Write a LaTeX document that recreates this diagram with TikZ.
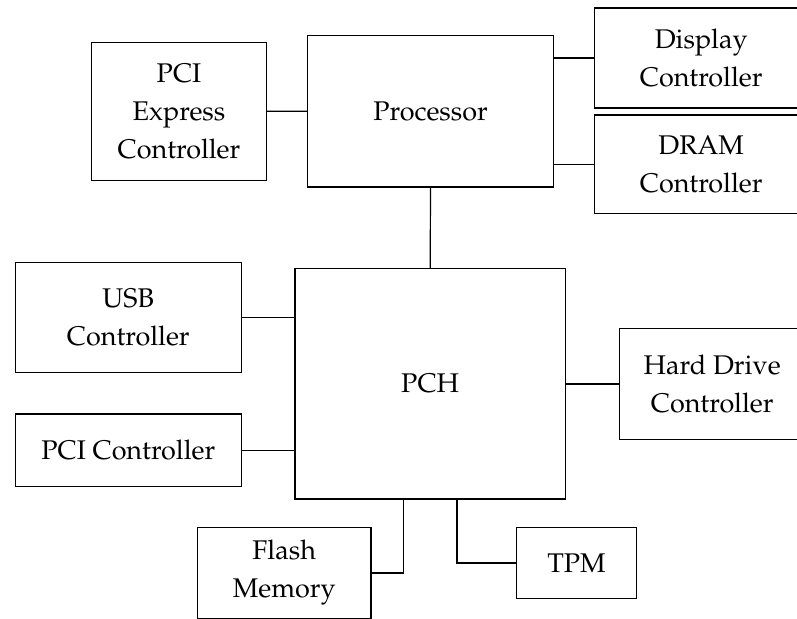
\documentclass[tikz,border=0pt]{standalone}
\usepackage[T1]{fontenc}
\renewcommand{\rmdefault}{ppl}
\begin{document}
\begin{tikzpicture}[x=1bp,y=-1bp,
  box/.style={draw=black, line width=1.2bp, inner sep=0pt, outer sep=0pt,
    align=center, font=\fontsize{27bp}{38bp}\selectfont},
  wire/.style={draw=black, line width=1.2bp}]
\useasboundingbox (0,0) rectangle (797,619);
\node[box, minimum width=175.4bp, minimum height=138bp] (pcie) at (179,111.3) {PCI\\Express\\Controller};
\node[box, minimum width=246.4bp, minimum height=151.7bp] (proc) at (430.5,111.2) {Processor};
\node[box, minimum width=213.7bp, minimum height=100bp] (disp) at (701.2,58) {Display\\Controller};
\node[box, minimum width=213.7bp, minimum height=98.7bp] (dram) at (701.2,164.3) {DRAM\\Controller};
\node[box, minimum width=226bp, minimum height=110bp] (usb) at (128.3,317.3) {USB\\Controller};
\node[box, minimum width=270.3bp, minimum height=230.7bp] (pch) at (430.2,383.7) {PCH};
\node[box, minimum width=226bp, minimum height=72.7bp] (pcic) at (128.3,450.3) {PCI Controller};
\node[box, minimum width=185.7bp, minimum height=110.6bp] (hdd) at (712.2,384) {Hard Drive\\Controller};
\node[box, minimum width=173.7bp, minimum height=91.2bp] (flash) at (284.2,572.9) {Flash\\Memory};
\node[box, minimum width=119.6bp, minimum height=71.4bp] (tpm) at (576.5,563) {TPM};
\coordinate (fj) at (403.7,572.9);
\coordinate (tj) at (457,563);
\draw[wire] (pcie.east) -- (proc.west);
\draw[wire] (proc.east |- disp.west) -- (disp.west);
\draw[wire] (proc.east |- dram.west) -- (dram.west);
\draw[wire] (proc.south) -- (pch.north);
\draw[wire] (usb.east) -- (usb.east -| pch.west);
\draw[wire] (pcic.east) -- (pcic.east -| pch.west);
\draw[wire] (pch.east |- hdd.west) -- (hdd.west);
\draw[wire] (pch.south -| fj) -- (fj) -- (flash.east);
\draw[wire] (pch.south -| tj) -- (tj) -- (tpm.west);
\end{tikzpicture}
\end{document}
